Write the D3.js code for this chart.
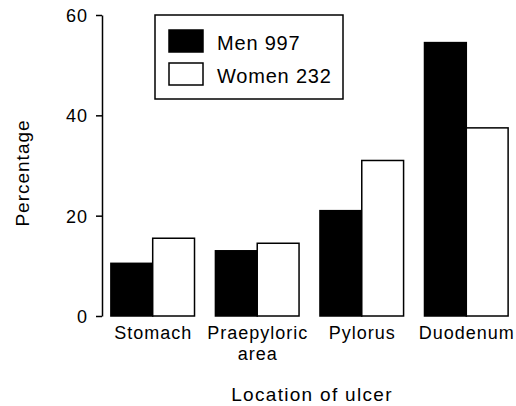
<!DOCTYPE html>
<html>
<head>
<meta charset="utf-8">
<script src="https://cdn.jsdelivr.net/npm/d3@7"></script>
<style>
    body { margin: 0; background: #fff; }
    text { font-family: 'Liberation Sans', Arial, sans-serif; fill: #000; }
</style>
</head>
<body>
<svg id="chart" width="516" height="406"></svg>
<script>
let categories = [['Stomach'], ['Praepyloric', 'area'], ['Pylorus'], ['Duodenum']]
let series = ['Men 997', 'Women 232']
let men = [10.5, 13, 21, 54.5]
let women = [15.5, 14.5, 31, 37.5]
let yTicks = [0, 20, 40, 60]

function main() {
    let svg = d3.select('#chart')

    let data = categories.map((c, i) => ({key: i, label: c, values: [men[i], women[i]]}))

    let x = d3.scaleBand().range([102, 517])
            .domain(data.map(d => d.key))
            .paddingInner(0.2).paddingOuter(0.085),
        sub = d3.scaleBand().range([0, x.bandwidth()]).domain([0, 1]),
        y = d3.scaleLinear().range([316, 15]).domain([0, 60]),
        fill = d3.scaleOrdinal(['#000', '#fff']).domain([0, 1])

    // bars
    let groups = svg.selectAll('g.group')
        .data(data)
        .enter()
        .append('g')
        .attr('class', 'group')
        .attr('transform', d => 'translate(' + x(d.key) + ',0)')

    groups.selectAll('rect')
        .data(d => d.values.map((v, i) => ({i: i, v: v})))
        .enter()
        .append('rect')
        .attr('x', d => sub(d.i))
        .attr('width', sub.bandwidth())
        .attr('y', d => y(d.v))
        .attr('height', d => y(0) - y(d.v))
        .attr('fill', d => fill(d.i))
        .attr('stroke', '#000')
        .attr('stroke-width', 1.5)

    // category labels
    groups.append('text')
        .attr('text-anchor', 'middle')
        .attr('x', x.bandwidth() / 2)
        .attr('y', 339)
        .style('font-size', '18px')
        .style('letter-spacing', '1px')
        .selectAll('tspan')
        .data(d => d.label)
        .enter()
        .append('tspan')
        .attr('x', x.bandwidth() / 2 + 0.5)
        .attr('dy', (d, i) => i === 0 ? 0 : 21)
        .text(d => d)

    // y axis
    let yAxis = svg.append('g')
        .attr('transform', 'translate(102,0)')
        .call(d3.axisLeft(y).tickValues(yTicks).tickSize(6).tickSizeOuter(0).tickPadding(8))
    yAxis.select('.domain').attr('stroke-width', 1.5)
    yAxis.selectAll('.tick line').attr('stroke-width', 1.5)
    yAxis.selectAll('.tick text')
        .attr('dy', '0.36em')
        .style('font-family', "'Liberation Sans', Arial, sans-serif")
        .style('font-size', '18px')
        .style('letter-spacing', '1px')

    // axis titles
    svg.append('text')
        .attr('text-anchor', 'middle')
        .attr('x', 312)
        .attr('y', 401)
        .style('font-size', '19px')
        .style('letter-spacing', '1.3px')
        .text('Location of ulcer')

    svg.append('text')
        .attr('text-anchor', 'middle')
        .attr('transform', 'rotate(-90)')
        .attr('x', -173)
        .attr('y', 29)
        .style('font-size', '19px')
        .style('letter-spacing', '1px')
        .text('Percentage')

    // legend
    let legend = svg.append('g').attr('transform', 'translate(155,15)')
    legend.append('rect')
        .attr('width', 188).attr('height', 84)
        .attr('fill', '#fff').attr('stroke', '#000').attr('stroke-width', 1.5)
    let items = legend.selectAll('g.item')
        .data(series)
        .enter()
        .append('g')
        .attr('class', 'item')
        .attr('transform', (d, i) => 'translate(14,' + (15 + i * 33) + ')')
    items.append('rect')
        .attr('width', 34).attr('height', 22)
        .attr('fill', (d, i) => fill(i))
        .attr('stroke', '#000').attr('stroke-width', 1.5)
    items.append('text')
        .attr('x', 48)
        .attr('y', 20)
        .style('font-size', '20px')
        .style('letter-spacing', '0.8px')
        .text(d => d)
}

main()
</script>
</body>
</html>
